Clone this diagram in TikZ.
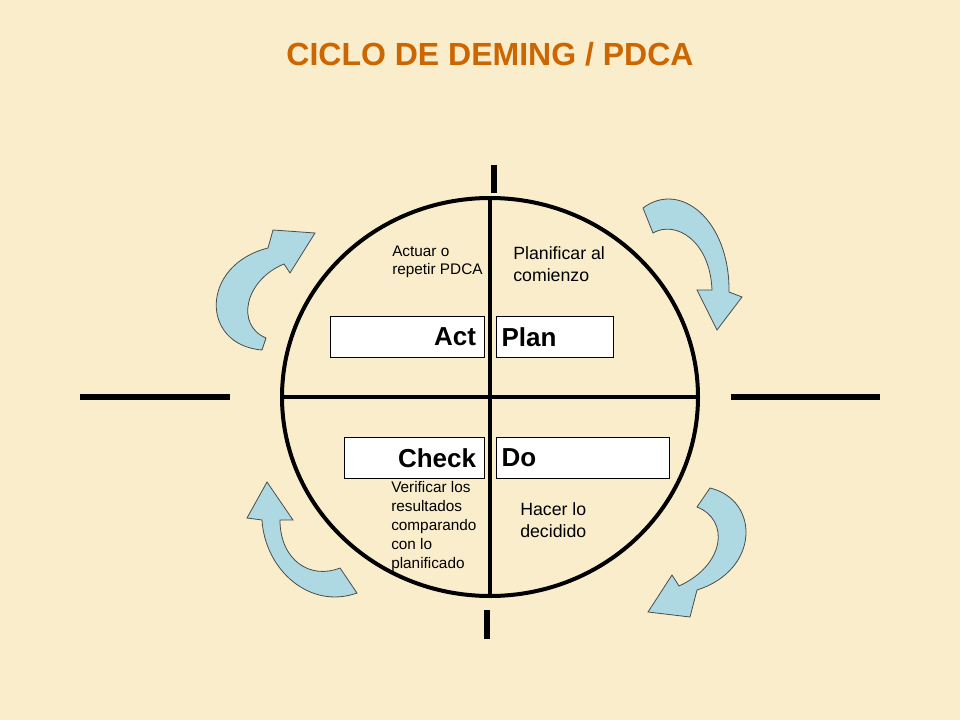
\documentclass[tikz,border=0pt]{standalone}
\usepackage{fontspec}
\setmainfont{Liberation Sans}
\usetikzlibrary{positioning}
\definecolor{paper}{RGB}{250,237,203}
\definecolor{titlebrown}{RGB}{204,102,0}
\definecolor{arrowblue}{RGB}{174,217,226}

\tikzset{
  stage/.style={draw, fill=white, minimum height=31pt, inner sep=4pt, font=\fontsize{19.5}{22}\selectfont\bfseries},
  note/.style={align=left, anchor=north west, inner sep=0pt},
  turn/.style={fill=arrowblue, draw=black!70, line width=0.6pt},
  axis/.style={line width=4.5pt},
}

\begin{document}
\begin{tikzpicture}[x=0.75pt, y=-0.75pt]
  % background
  \fill[paper] (0,0) rectangle (960,720);
  \useasboundingbox (0,0) rectangle (960,720);

  \node[titlebrown, font=\fontsize{24}{27}\selectfont\bfseries] (title) at (490,54) {CICLO DE DEMING / PDCA};

  % circle and cross
  \draw[line width=3pt] (490,397) ellipse [x radius=208, y radius=199];
  \draw[line width=3pt] (490,198) -- (490,596);
  \draw[line width=3pt] (282,397) -- (698,397);

  % outer ticks
  \draw[axis] (494,165) -- (494,193);
  \draw[axis] (487,610) -- (487,639);
  \draw[axis] (80,397) -- (230,397);
  \draw[axis] (731,397) -- (880,397);

  % stage boxes
  \node[stage, minimum width=116pt, anchor=north east, align=right, text width=103pt] (act) at (485,316) {Act};
  \node[stage, minimum width=88pt, anchor=north west, align=left, text width=80pt] (plan) at (496,316) {Plan};
  \node[stage, minimum width=105pt, anchor=north east, align=right, text width=92pt] (check) at (485,437) {Check};
  \node[stage, minimum width=130pt, anchor=north west, align=left, text width=122pt] (do) at (496,437) {Do};

  % notes
  \node[note, font=\fontsize{11.5}{13.5}\selectfont] (actnote) at (392,246) {Actuar o\\repetir PDCA};
  \node[note, font=\fontsize{13.3}{17}\selectfont] (plannote) at (513,246) {Planificar al\\comienzo};
  \node[note, font=\fontsize{11.5}{14.2}\selectfont] (checknote) at (391,481) {Verificar los\\resultados\\comparando\\con lo\\planificado};
  \node[note, font=\fontsize{13.3}{17}\selectfont] (donote) at (520,502) {Hacer lo\\decidido};

  % curved arrows
  \draw[turn] (643,208) .. controls (680,180) and (730,220) .. (729,292) -- (742,297) -- (717,330) -- (697,290) -- (712,290) .. controls (710,240) and (675,220) .. (653,233) -- cycle;
  \draw[turn] (710,488) .. controls (760,500) and (760,570) .. (697,590) -- (690,617) -- (648,612) -- (672,575) -- (679,586) .. controls (725,565) and (730,520) .. (697,507) -- cycle;
  \draw[turn] (262,520) .. controls (265,570) and (310,610) .. (357,593) -- (340,568) .. controls (310,580) and (280,560) .. (280,520) -- (293,520) -- (267,482) -- (247,518) -- cycle;
  \draw[turn] (262,350) .. controls (200,345) and (200,265) .. (268,248) -- (273,230) -- (315,233) -- (290,273) -- (284,264) .. controls (245,280) and (235,325) .. (266,338) -- cycle;
\end{tikzpicture}
\end{document}
